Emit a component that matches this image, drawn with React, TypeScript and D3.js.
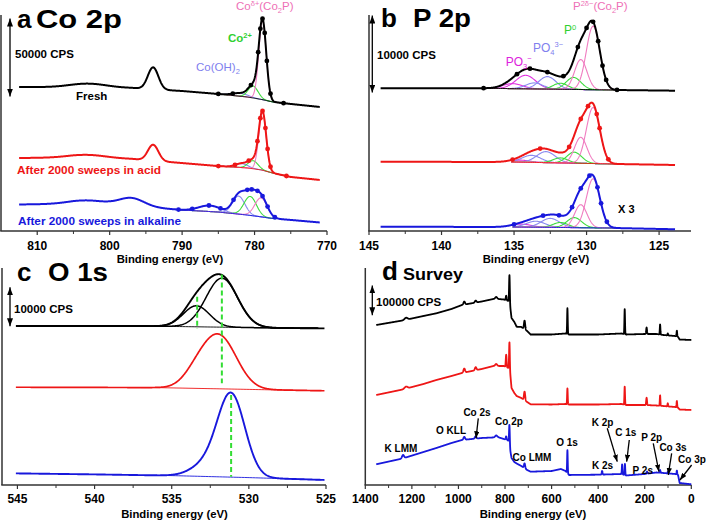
import React from 'react';
import * as d3 from 'd3';

type Pt = [number, number];
type Peak = [number, number, number, string]; // centre (eV), height (kCPS), FWHM (eV), component kind

// ---------- Panel a: Co 2p (intensity in kCPS) ----------
const coTicks = [810, 800, 790, 780, 770];
const coFreshBase: Pt[] = [[812.5, 91.2], [797, 90.5], [790, 88.6], [785, 86.7], [781, 84.8], [779, 83.2], [777.5, 81.7], [775, 80.4], [771, 78.5]];
const coFreshPeaks: Peak[] = [[803, 2.5, 6, ''], [794, 13.9, 1.7, ''], [782, 1.9, 2.5, 'oh'], [780.2, 7.6, 1.6, 'co2'], [778.9, 50, 1.2, 'cod']];
const coFreshDots = [785, 783, 780.5, 779.5, 779.2, 778.9, 778.6, 778.3, 777.8, 776];
const coAcidBase: Pt[] = [[812.5, 46.2], [805, 46.5], [797, 45.6], [790, 43.0], [785, 41.1], [781, 39.9], [779, 38.6], [777.5, 36.7], [775, 34.2], [771, 32.3]];
const coAcidPeaks: Peak[] = [[803, 1.9, 6, ''], [794, 10.1, 1.7, ''], [781.8, 2.5, 2, 'oh'], [780.2, 5.1, 1.6, 'co2'], [778.9, 36.7, 1.2, 'cod']];
const coAcidDots = [785, 782.7, 780.8, 779.6, 779.2, 778.9, 778.5, 778.2, 777.8, 775.6];
const coAlkBase: Pt[] = [[812.5, 16.8], [805, 17.1], [800, 16.5], [795, 15.2], [790, 13.3], [785, 12.0], [781, 10.1], [779, 8.9], [777.5, 7.9], [775, 7.0], [771, 5.4]];
const coAlkPeaks: Peak[] = [[803, 2.5, 6, ''], [797, 5.1, 4, ''], [786.2, 3.8, 3.5, 'oh'], [782.2, 11.4, 2, 'oh'], [780.6, 12, 2, 'co2'], [779.1, 12, 2, 'cod']];
const coAlkDots = [790.5, 788.6, 786.3, 784.7, 782.9, 781.0, 780.4, 779.6, 778.9, 778.2, 777.2];

// ---------- Panel b: P 2p ----------
const pTicks = [145, 140, 135, 130, 125];
const pFreshBase: Pt[] = [[144.2, 18.27], [137, 18.27], [128, 18.05], [123.9, 17.96]];
const pFreshPeaks: Peak[] = [[135.1, 0.64, 1.6, 'po3'], [134.2, 1.73, 1.6, 'po3'], [133.6, 0.77, 1.4, 'po4'], [132.7, 1.6, 1.4, 'po4'], [131.8, 0.77, 1.2, 'p0'], [130.9, 1.54, 1.2, 'p0'], [130.4, 3.84, 1.0, 'pd'], [129.55, 8.13, 1.1, 'pd']];
const pFreshDots = [137.1, 134.8, 133.9, 132.7, 131.6, 130.6, 130.0, 129.55, 129.2, 128.9, 128.65, 127.9];
const pAcidBase: Pt[] = [[144.2, 8.87], [135, 8.83], [128, 8.58], [123.9, 8.45]];
const pAcidPeaks: Peak[] = [[134.6, 0.26, 1.6, 'po3'], [133.8, 0.9, 1.5, 'po4'], [132.8, 1.41, 1.5, 'po4'], [131.8, 0.64, 1.2, 'p0'], [130.85, 1.41, 1.2, 'p0'], [130.4, 3.33, 1.0, 'pd'], [129.55, 7.17, 1.1, 'pd']];
const pAcidDots = [135.1, 133.2, 131.2, 130.4, 129.9, 129.3, 129.1, 128.5];
const pAlkBase: Pt[] = [[144.2, 0.55], [135, 0.51], [128, 0.38], [123.9, 0.22]];
const pAlkPeaks: Peak[] = [[134.5, 0.38, 1.6, 'po3'], [133.5, 0.77, 1.5, 'po4'], [132.5, 1.15, 1.5, 'po4'], [131.8, 0.64, 1.2, 'p0'], [130.85, 1.28, 1.2, 'p0'], [130.4, 2.94, 1.0, 'pd'], [129.55, 6.27, 1.1, 'pd']];
const pAlkDots = [135, 133, 131.9, 131, 130.4, 129.8, 129.25, 129.0, 128.6];

// ---------- Panel c: O 1s ----------
const oTicks = [545, 540, 535, 530, 525];
const oFreshBase: Pt[] = [[546, 39.5], [537, 39.5], [528, 39.0], [525, 38.9]];
const oFreshPeaks: Peak[] = [[533.4, 5.25, 2.0, 'c'], [531.75, 12.25, 2.4, 'c']];
const oAcidBase: Pt[] = [[546, 24.2], [536, 24.1], [528, 23.5], [525, 23.3]];
const oAcidPeaks: Peak[] = [[533.4, 3, 2.0, ''], [531.9, 13, 2.6, '']];
const oAlkBase: Pt[] = [[546, 2.7], [540, 2.4], [535, 2.1], [530, 1.6], [525, 1.0]];
const oAlkPeaks: Peak[] = [[532.9, 2.5, 2.2, ''], [531.15, 20.7, 2.1, '']];
const oGuides: [number, number, number][] = [[533.35, 46.8, 38.75], [531.75, 52.4, 25.2], [531.15, 22.25, 1.8]];

// ---------- Panel d: Survey ----------
const sTicks = [1400, 1200, 1000, 800, 600, 400, 200, 0];
const sFreshBase: Pt[] = [[1353, 521.6], [1240, 536.3], [1150, 551], [1095, 559.7], [1030, 573.8], [985, 586.8], [900, 598.2], [850, 606.4], [830, 606.4], [805, 604.7], [785, 599.8], [780, 597], [776, 570], [772, 544.4], [760, 531.4], [750, 516], [730, 515.1], [705, 502], [690, 490.6], [600, 490.6], [540, 493.9], [525, 490.6], [400, 490.6], [300, 493.9], [280, 490.6], [200, 492.3], [150, 492.3], [120, 489], [70, 485.7], [57, 483], [50, 474.3], [0, 472.7]];
const sFreshPeaks: Peak[] = [[1225, 6.5, 15, ''], [975, 9.8, 8, ''], [926, 6.5, 8, ''], [838, 6.5, 10, ''], [795, 14.8, 4, ''], [781, 87, 3.5, ''], [716, 28, 6, ''], [532, 84, 3, ''], [286, 82, 3, ''], [192, 21, 4, ''], [134, 33, 3, ''], [101, 6.5, 3, ''], [62, 19, 3, '']];
const sAcidBase: Pt[] = [[1353, 293.4], [1240, 311.3], [1150, 329.3], [1095, 342.3], [1030, 355.3], [985, 365.1], [900, 378.2], [850, 387.9], [830, 387.9], [805, 387.9], [785, 381.4], [780, 379], [776, 350], [772, 316.2], [760, 299.9], [750, 290.1], [730, 283.6], [705, 270.6], [690, 263.1], [600, 262.4], [540, 264.1], [525, 262.4], [400, 262.4], [300, 264.1], [280, 260.8], [200, 260.8], [150, 259.2], [120, 257.5], [70, 254.3], [57, 252], [50, 246.1], [0, 244.5]];
const sAcidPeaks: Peak[] = [[1225, 6.5, 15, ''], [975, 13, 8, ''], [926, 9.8, 8, ''], [838, 6.5, 10, ''], [795, 40, 4, ''], [781, 86, 3.5, ''], [716, 28, 6, ''], [532, 52, 3, ''], [286, 59, 3, ''], [192, 24, 4, ''], [134, 34, 3, ''], [101, 10, 3, ''], [62, 21, 3, '']];
const sAlkBase: Pt[] = [[1353, 67.5], [1240, 86.4], [1150, 107.6], [1095, 120.6], [1030, 136.9], [985, 146.7], [900, 153.2], [850, 155], [830, 156], [805, 150], [790, 146.7], [782, 142], [777, 110], [772, 88], [760, 75], [750, 70.1], [730, 61.9], [705, 48.9], [690, 43.4], [600, 45.6], [560, 52.2], [540, 45.6], [525, 32.6], [400, 33.6], [300, 35.9], [280, 31], [200, 35.9], [150, 40.8], [120, 39.1], [70, 35.9], [57, 33], [50, 6.5], [0, 2.3]];
const sAlkPeaks: Peak[] = [[1238, 11, 10, ''], [975, 9.3, 8, ''], [926, 7.5, 8, ''], [838, 6, 10, ''], [795, 11, 4, ''], [781, 60, 3.5, ''], [716, 16, 6, ''], [532, 75, 3, ''], [383, 11.8, 4, ''], [297, 32.5, 3, ''], [285, 36.5, 3, ''], [190, 7, 4, ''], [134, 9, 3, ''], [101, 5, 3, ''], [62, 13, 3, '']];
const sLabels: [string, number, number][] = [['K LMM', 401, 452], ['O KLL', 451, 434], ['Co 2s', 477, 415.5], ['Co 2p', 509, 425], ['Co LMM', 532, 460.5], ['O 1s', 567, 446], ['K 2p', 602.5, 425.5], ['C 1s', 625.8, 435.5], ['K 2s', 602.5, 469], ['P 2s', 642.8, 473.5], ['P 2p', 651.7, 440.7], ['Co 3s', 673, 450.5], ['Co 3p', 692, 463.3]];
const sArrows: [number, number, number, number][] = [[914.8, 217.4, 924.6, 152.2], [361, 184.9, 318, 76], [266.4, 146.7, 277.6, 76], [163.4, 135.9, 139, 43.4], [84.4, 103.3, 99, 32.6], [-1.4, 65.2, 48.8, 16.3]];

// ---------- styling ----------
const FONT = "'Liberation Sans', Arial, Helvetica, sans-serif";
const BLACK = '#000000';
const RED = '#ee1616';
const BLUE = '#1818dc';
const PINK = '#f07cc0';
const GREEN = '#3cdc3c';
const LBLUE = '#8a8af0';
const MAG = '#e034e0';
const AX = '#333333';
const coComps: Record<string, string> = { oh: LBLUE, co2: GREEN, cod: PINK };
const pComps: Record<string, string> = { po3: MAG, po4: LBLUE, p0: GREEN, pd: PINK };
const oComps: Record<string, string> = { c: BLACK };

const LN = 4 * Math.LN2;
const gsum = (e: number, peaks: Peak[]) => d3.sum(peaks, (p) => p[1] * Math.exp(-LN * ((e - p[0]) / p[2]) ** 2));
const samp = (a: number, b: number, m: number) => d3.range(m + 1).map((i) => a + ((b - a) * i) / m);

type S = d3.ScaleLinear<number, number>;

function Trace(props: {
  xs: S; ys: S; base: Pt[]; peaks: Peak[]; span: [number, number]; color: string; lw: number; n?: number;
  fit?: [number, number]; comps?: Record<string, string>; compW?: number; dots?: number[]; bg?: boolean; bgW?: number;
}) {
  const { xs, ys, base, peaks, span, color, lw, n = 700, fit, comps, compW = 1.1, dots, bg, bgW = 0.9 } = props;
  const bf = d3.scaleLinear().domain(base.map((d) => d[0])).range(base.map((d) => d[1])).clamp(true);
  const line = d3.line<Pt>().x((d) => xs(d[0])).y((d) => ys(d[1]));
  const env = (e: number) => bf(e) + gsum(e, peaks);
  const data = samp(span[0], span[1], n).map((e) => [e, env(e)] as Pt);
  const els: React.ReactNode[] = [];
  if (fit && comps) {
    peaks.forEach((p, i) => {
      const c = comps[p[3]];
      if (!c) return;
      const pts = samp(fit[0], fit[1], 240).map((e) => [e, bf(e) + gsum(e, [p])] as Pt);
      els.push(<path key={'c' + i} d={line(pts) || ''} fill="none" stroke={c} strokeWidth={compW} />);
    });
  }
  if (fit && bg) {
    const pts = samp(fit[0], fit[1], 60).map((e) => [e, bf(e)] as Pt);
    els.push(<path key="bg" d={line(pts) || ''} fill="none" stroke={color} strokeWidth={bgW} />);
  }
  els.push(<path key="d" d={line(data) || ''} fill="none" stroke={color} strokeWidth={lw} strokeLinejoin="round" />);
  if (dots) dots.forEach((e, i) => els.push(<circle key={'o' + i} cx={xs(e)} cy={ys(env(e))} r={2.4} fill={color} />));
  return <g>{els}</g>;
}

function Axes(props: { xs: S; yTop: number; yAxis: number; ticks: number[]; minor: number[]; tickY: number; label: [number, number] }) {
  const { xs, yTop, yAxis, ticks, minor, tickY, label } = props;
  const [x0, x1] = xs.range();
  return (
    <g fontFamily={FONT} fontWeight="bold">
      <line x1={x0} x2={x0} y1={yTop} y2={yAxis} stroke={AX} strokeWidth={1.5} />
      <line x1={x0 - 0.75} x2={x1} y1={yAxis} y2={yAxis} stroke={AX} strokeWidth={1.5} />
      {ticks.map((t) => (
        <g key={t}>
          <line x1={xs(t)} x2={xs(t)} y1={yAxis} y2={yAxis + 4} stroke={AX} strokeWidth={1.2} />
          <text x={xs(t)} y={tickY} textAnchor="middle" fontSize={12} fill="#000">{t}</text>
        </g>
      ))}
      {minor.map((t) => (
        <line key={'m' + t} x1={xs(t)} x2={xs(t)} y1={yAxis} y2={yAxis + 3} stroke={AX} strokeWidth={1} />
      ))}
      <text x={label[0]} y={label[1]} textAnchor="middle" fontSize={11.3} fill="#000">Binding energy (eV)</text>
    </g>
  );
}

function ScaleBar(props: { x: number; ys: S; top: number; len: number; label: string; lx: number; ly: number; marker: string }) {
  const { x, ys, top, len, label, lx, ly, marker } = props;
  return (
    <g>
      <line x1={x} x2={x} y1={ys(top) + 0.5} y2={ys(top - len) - 0.5} stroke="#000" strokeWidth={1.3}
        markerStart={`url(#${marker})`} markerEnd={`url(#${marker})`} />
      <text x={lx} y={ly} fontFamily={FONT} fontWeight="bold" fontSize={11.5} fill="#000">{label}</text>
    </g>
  );
}

function Title(props: { letter: string; lx: number; word: string; wx: number; wLen: number; y: number; size: number; wsize?: number }) {
  const { letter, lx, word, wx, wLen, y, size, wsize } = props;
  return (
    <g fontFamily={FONT} fontWeight="bold" fill="#000">
      <text x={lx} y={y} fontSize={size}>{letter}</text>
      <text x={wx} y={y} fontSize={wsize || size} textLength={wLen} lengthAdjust="spacingAndGlyphs">{word}</text>
    </g>
  );
}

export default function App() {
  const xA = d3.scaleLinear().domain([815, 770]).range([1, 327]);
  const yA = d3.scaleLinear().domain([0, 136.7]).range([231, 15]);
  const xB = d3.scaleLinear().domain([145, 122.8]).range([369, 691]);
  const yB = d3.scaleLinear().domain([0, 27.65]).range([231, 15]);
  const xC = d3.scaleLinear().domain([546, 525]).range([2, 326]);
  const yC = d3.scaleLinear().domain([0, 54]).range([484, 268]);
  const xD = d3.scaleLinear().domain([1400, 0]).range([365.3, 691.3]);
  const yD = d3.scaleLinear().domain([0, 707.4]).range([485, 268]);

  const sub = { fontSize: 7.5 };

  return (
    <svg width={706} height={520} style={{ position: 'absolute', left: 0, top: 0, background: '#fff' }}>
      <defs>
        <marker id="bar" viewBox="0 0 8 6" refX={8} refY={3} markerWidth={8} markerHeight={6} markerUnits="userSpaceOnUse" orient="auto-start-reverse">
          <path d="M0,0 L8,3 L0,6 z" fill="#000" />
        </marker>
        <marker id="ann" viewBox="0 0 8 6" refX={8} refY={3} markerWidth={7} markerHeight={5.5} markerUnits="userSpaceOnUse" orient="auto">
          <path d="M0,0 L8,3 L0,6 z" fill="#000" />
        </marker>
      </defs>

      {/* ---------------- Panel a ---------------- */}
      <Axes xs={xA} yTop={15} yAxis={231} ticks={coTicks} minor={[805, 795, 785, 775]} tickY={249.5} label={[170, 262.5]} />
      <Trace xs={xA} ys={yA} base={coFreshBase} peaks={coFreshPeaks} span={[812.5, 771]} color={BLACK} lw={2}
        fit={[785.5, 775.5]} comps={coComps} dots={coFreshDots} bg />
      <Trace xs={xA} ys={yA} base={coAcidBase} peaks={coAcidPeaks} span={[812.5, 771]} color={RED} lw={2}
        fit={[785.5, 775.2]} comps={coComps} dots={coAcidDots} bg />
      <Trace xs={xA} ys={yA} base={coAlkBase} peaks={coAlkPeaks} span={[812.5, 771]} color={BLUE} lw={2}
        fit={[791, 777]} comps={coComps} dots={coAlkDots} bg />
      <Title letter="a" lx={17} word="Co 2p" wx={36} wLen={86} y={28} size={26} />
      <ScaleBar x={10} ys={yA} top={134.8} len={50} label="50000 CPS" lx={15} ly={57.5} marker="bar" />
      <g fontFamily={FONT}>
        <text x={236} y={9.5} fontSize={11.5} fill="#ee70b6">
          <tspan>Co</tspan><tspan dy={-4} {...sub}>δ+</tspan><tspan dy={4}>(Co</tspan><tspan dy={3} {...sub}>2</tspan><tspan dy={-3}>P)</tspan>
        </text>
        <text x={228} y={42} fontSize={11.5} fontWeight="bold" fill="#30d030">
          <tspan>Co</tspan><tspan dy={-4} {...sub}>2+</tspan>
        </text>
        <text x={196} y={71} fontSize={11.5} fill="#8080ee">
          <tspan>Co(OH)</tspan><tspan dy={3} {...sub}>2</tspan>
        </text>
        <text x={76} y={100} fontSize={11.5} fontWeight="bold" fill="#000">Fresh</text>
        <text x={17} y={174} fontSize={11.5} fontWeight="bold" fill={RED} textLength={144} lengthAdjust="spacingAndGlyphs">After 2000 sweeps in acid</text>
        <text x={18} y={225} fontSize={11.5} fontWeight="bold" fill={BLUE} textLength={163} lengthAdjust="spacingAndGlyphs">After 2000 sweeps in alkaline</text>
      </g>

      {/* ---------------- Panel b ---------------- */}
      <Axes xs={xB} yTop={15} yAxis={231} ticks={pTicks} minor={[142.5, 137.5, 132.5, 127.5]} tickY={249.5} label={[536, 262.5]} />
      <Trace xs={xB} ys={yB} base={pFreshBase} peaks={pFreshPeaks} span={[144.2, 123.9]} color={BLACK} lw={2}
        fit={[137.2, 127.7]} comps={pComps} dots={pFreshDots} bg />
      <Trace xs={xB} ys={yB} base={pAcidBase} peaks={pAcidPeaks} span={[144.2, 123.9]} color={RED} lw={2}
        fit={[135.2, 127.8]} comps={pComps} dots={pAcidDots} bg />
      <Trace xs={xB} ys={yB} base={pAlkBase} peaks={pAlkPeaks} span={[144.2, 123.9]} color={BLUE} lw={2}
        fit={[135.1, 127.8]} comps={pComps} dots={pAlkDots} bg />
      <Title letter="b" lx={381} word="P 2p" wx={413} wLen={58} y={27} size={26} />
      <ScaleBar x={372.3} ys={yB} top={27.65} len={10} label="10000 CPS" lx={377} ly={59} marker="bar" />
      <g fontFamily={FONT}>
        <text x={573} y={10} fontSize={11.5} fill="#ee70b6">
          <tspan>P</tspan><tspan dy={-4} {...sub}>2δ−</tspan><tspan dy={4}>(Co</tspan><tspan dy={3} {...sub}>2</tspan><tspan dy={-3}>P)</tspan>
        </text>
        <text x={564} y={34} fontSize={12} fill="#30d030">
          <tspan>P</tspan><tspan dy={-4.5} {...sub}>0</tspan>
        </text>
        <text x={533} y={52} fontSize={12} fill="#8080ee">
          <tspan>PO</tspan><tspan dy={3} {...sub}>4</tspan><tspan dy={-8.5} {...sub}>3−</tspan>
        </text>
        <text x={505.7} y={66} fontSize={12} fill="#dd22dd">
          <tspan>PO</tspan><tspan dy={3} {...sub}>3</tspan><tspan dy={-8.5} {...sub}>−</tspan>
        </text>
        <text x={618} y={213} fontSize={11} fontWeight="bold" fill="#000">X 3</text>
      </g>

      {/* ---------------- Panel c ---------------- */}
      <Axes xs={xC} yTop={268} yAxis={485} ticks={oTicks} minor={[542.5, 537.5, 532.5, 527.5]} tickY={502.5} label={[174.5, 517.5]} />
      <Trace xs={xC} ys={yC} base={oFreshBase} peaks={oFreshPeaks} span={[545.1, 525.1]} color={BLACK} lw={1.9}
        fit={[537.5, 525.5]} comps={oComps} compW={1.5} bg />
      <Trace xs={xC} ys={yC} base={oAcidBase} peaks={oAcidPeaks} span={[545.1, 525.1]} color={RED} lw={1.7}
        fit={[537, 525.3]} bg />
      <Trace xs={xC} ys={yC} base={oAlkBase} peaks={oAlkPeaks} span={[545.1, 525.1]} color={BLUE} lw={1.9}
        fit={[536, 525.3]} bg />
      {oGuides.map((g, i) => (
        <line key={'g' + i} x1={xC(g[0])} x2={xC(g[0])} y1={yC(g[1])} y2={yC(g[2])} stroke="#33dd33" strokeWidth={2} strokeDasharray="5 3" />
      ))}
      <Title letter="c" lx={17} word="O 1s" wx={48} wLen={60} y={281} size={26} />
      <ScaleBar x={10} ys={yC} top={49.3} len={10} label="10000 CPS" lx={14} ly={312.5} marker="bar" />

      {/* ---------------- Panel d ---------------- */}
      <Axes xs={xD} yTop={268} yAxis={485} ticks={sTicks} minor={[1300, 1100, 900, 700, 500, 300, 100]} tickY={502.5} label={[533, 517.5]} />
      <Trace xs={xD} ys={yD} base={sFreshBase} peaks={sFreshPeaks} span={[1353, 0]} color={BLACK} lw={1.8} n={2800} />
      <Trace xs={xD} ys={yD} base={sAcidBase} peaks={sAcidPeaks} span={[1353, 0]} color={RED} lw={1.8} n={2800} />
      <Trace xs={xD} ys={yD} base={sAlkBase} peaks={sAlkPeaks} span={[1353, 0]} color={BLUE} lw={1.8} n={2800} />
      <Title letter="d" lx={382} word="Survey" wx={403} wLen={60} y={280} size={26} wsize={17} />
      <ScaleBar x={372.3} ys={yD} top={652} len={100} label="100000 CPS" lx={376} ly={306} marker="bar" />
      <g fontFamily={FONT} fontWeight="bold" fontSize={10} fill="#000">
        {sLabels.map((l) => (
          <text key={l[0]} x={l[1]} y={l[2]} textAnchor="middle">{l[0]}</text>
        ))}
      </g>
      {sArrows.map((a, i) => (
        <line key={'a' + i} x1={xD(a[0])} y1={yD(a[1])} x2={xD(a[2])} y2={yD(a[3])} stroke="#000" strokeWidth={1.3} markerEnd="url(#ann)" />
      ))}
    </svg>
  );
}
